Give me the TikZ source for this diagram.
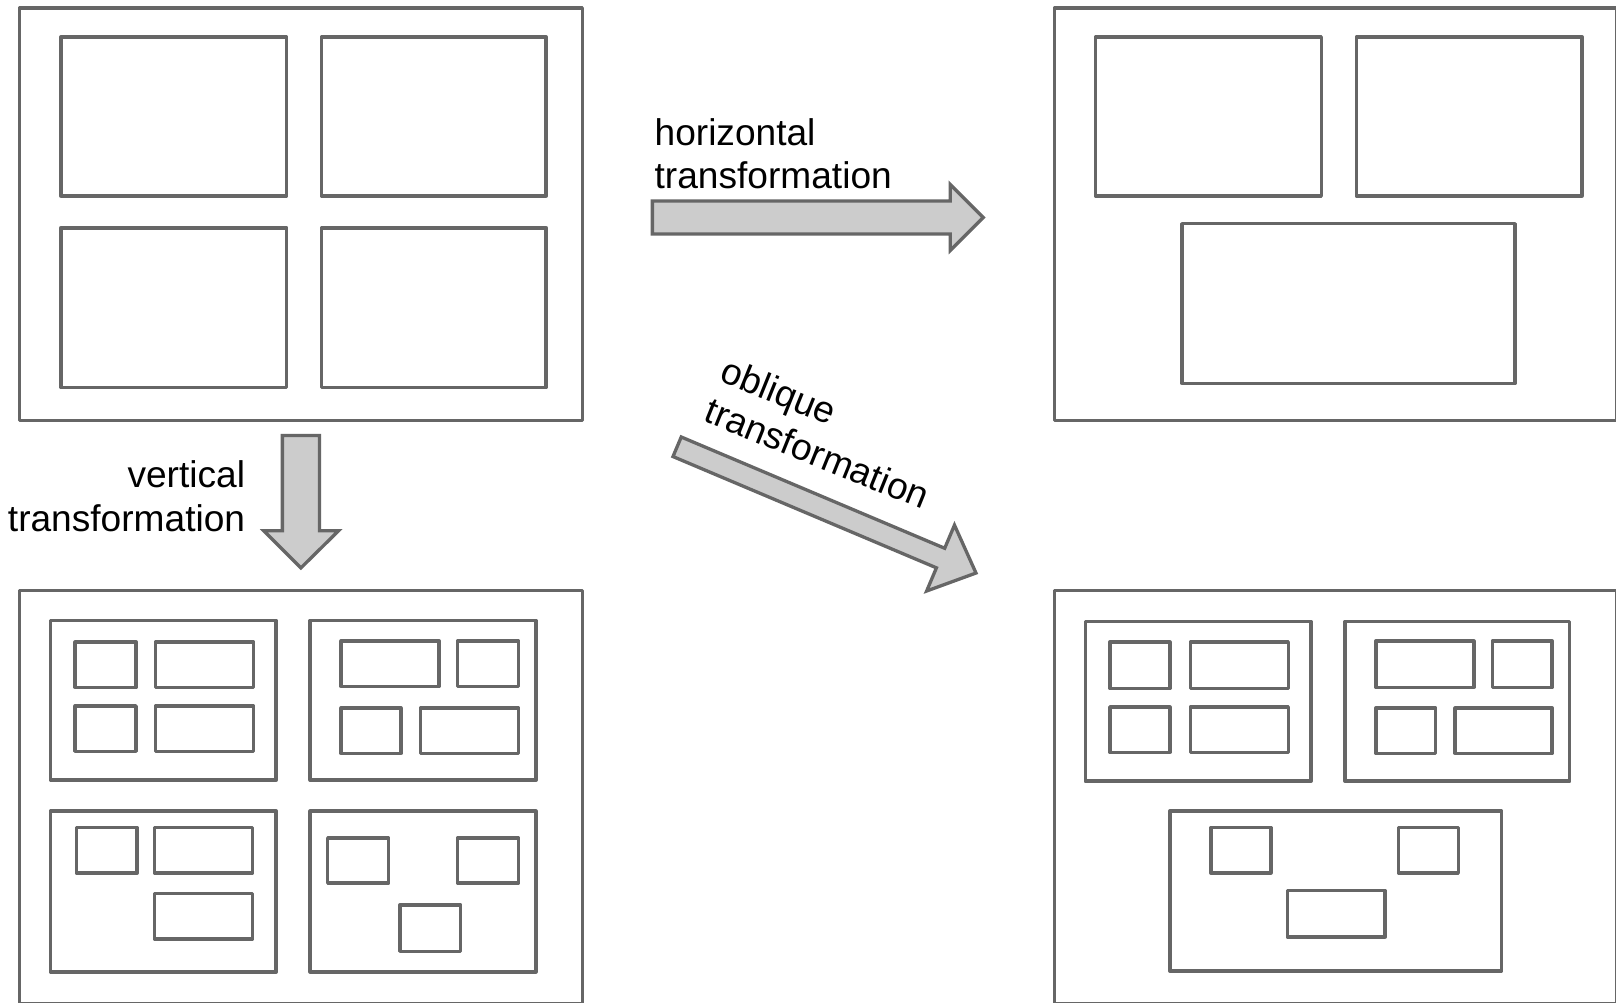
\documentclass[tikz,border=0pt]{standalone}
\usepackage{fontspec}
\setmainfont{Liberation Sans}
\definecolor{edgegray}{HTML}{666666}
\definecolor{arrowfill}{HTML}{CCCCCC}
\begin{document}
\begin{tikzpicture}[x=1.0306pt,y=-1.0306pt,
  box/.style={draw=edgegray,line width=3.5pt,line join=round},
  blockarrow/.style={draw=edgegray,fill=arrowfill,line width=3.3pt,line join=miter},
  lbl/.style={font=\fontsize{37.1}{43.3}\selectfont,inner sep=0pt,text=black}]
\useasboundingbox (0,0) rectangle (1568,973);
\clip (0,0) rectangle (1568,973);
\fill[white] (0,0) rectangle (1568,973);

% ---------- top-left panel ----------
\draw[box] (19,8) rectangle (565,408);
\draw[box] (59,36) rectangle (278,190);
\draw[box] (312,36) rectangle (530,190);
\draw[box] (59,221) rectangle (278,376);
\draw[box] (312,221) rectangle (530,376);

% ---------- top-right panel ----------
\draw[box] (1023,8) rectangle (1569,408);
\draw[box] (1063,36) rectangle (1282,190);
\draw[box] (1316,36) rectangle (1535,190);
\draw[box] (1147,217) rectangle (1470,372);

% ---------- bottom-left panel ----------
\draw[box] (19,573) rectangle (565,974);
% sub 1
\draw[box] (49,602) rectangle (268,757);
\draw[box] (73,623) rectangle (132,667);
\draw[box] (151,623) rectangle (246,667);
\draw[box] (73,685) rectangle (132,729);
\draw[box] (151,685) rectangle (246,729);
% sub 2
\draw[box] (301,602) rectangle (520,757);
\draw[box] (331,622) rectangle (426,666);
\draw[box] (444,622) rectangle (503,666);
\draw[box] (331,687) rectangle (389,731);
\draw[box] (408,687) rectangle (503,731);
% sub 3
\draw[box] (49,787) rectangle (268,943);
\draw[box] (74,803) rectangle (133,847);
\draw[box] (150,803) rectangle (245,847);
\draw[box] (150,867) rectangle (245,911);
% sub 4
\draw[box] (301,787) rectangle (520,943);
\draw[box] (318,813) rectangle (377,857);
\draw[box] (444,813) rectangle (503,857);
\draw[box] (388,878) rectangle (447,923);

% ---------- bottom-right panel ----------
\draw[box] (1023,573) rectangle (1569,974);
% sub 1
\draw[box] (1053,603) rectangle (1272,758);
\draw[box] (1077,623) rectangle (1135,668);
\draw[box] (1155,623) rectangle (1250,668);
\draw[box] (1077,686) rectangle (1135,730);
\draw[box] (1155,686) rectangle (1250,730);
% sub 2
\draw[box] (1305,603) rectangle (1523,758);
\draw[box] (1335,622) rectangle (1430,667);
\draw[box] (1448,622) rectangle (1506,667);
\draw[box] (1335,687) rectangle (1393,731);
\draw[box] (1412,687) rectangle (1506,731);
% bottom sub
\draw[box] (1135,787) rectangle (1457,942);
\draw[box] (1175,803) rectangle (1233,847);
\draw[box] (1357,803) rectangle (1415,847);
\draw[box] (1249,864) rectangle (1344,909);

% ---------- arrows ----------
\draw[blockarrow] (633,195) -- (922,195) -- (922,179) -- (954,211)
  -- (922,243) -- (922,227) -- (633,227) -- cycle;
\draw[blockarrow] (274,422.5) -- (310,422.5) -- (310,515) -- (328.5,515)
  -- (292,551) -- (256,515) -- (274,515) -- cycle;
\begin{scope}[shift={(657,433.5)},rotate=-22.9]
\draw[blockarrow] (0,-10.3) -- (277.5,-10.3) -- (277.5,-34.7) -- (314.8,0)
  -- (277.5,34.7) -- (277.5,10.3) -- (0,10.3) -- cycle;
\end{scope}

% ---------- labels ----------
\node[lbl,align=left,anchor=north west] (hlabel) at (635,115)
  {horizontal\\transformation};
\node[lbl,align=right,anchor=north east] (vlabel) at (238,447)
  {vertical\\transformation};
\node[lbl,align=left,anchor=north west,rotate=-22] (olabel) at (707,345)
  {oblique\\transformation};
\end{tikzpicture}
\end{document}
